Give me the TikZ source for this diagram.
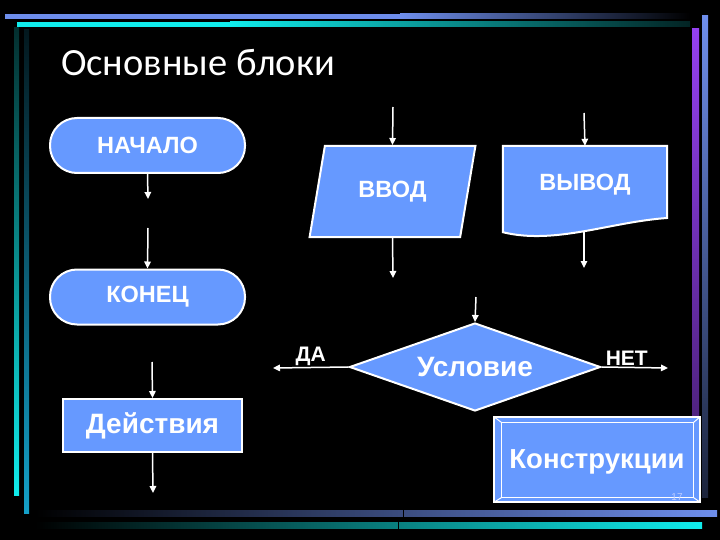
\documentclass[tikz,border=0pt]{standalone}
\usepackage{fontspec}
\setmainfont{Liberation Sans}
\newfontfamily\titlefont{Carlito}
\usetikzlibrary{arrows.meta, shapes.geometric}

\definecolor{blokblue}{RGB}{102,153,255}
\definecolor{barblue}{RGB}{110,142,236}
\definecolor{barcyan}{RGB}{16,236,236}
\definecolor{barpurple}{RGB}{148,64,240}
\definecolor{barteal}{RGB}{20,160,200}
\definecolor{nrcolor}{RGB}{190,205,255}

\begin{document}
\begin{tikzpicture}[
				x=1pt, y=-1pt,
				blok/.style={draw=white, line width=2pt, fill=blokblue, text=white, inner sep=0pt,
					font=\bfseries\fontsize{23.5}{27}\selectfont},
				term/.style={blok, rectangle, rounded corners=27pt, minimum width=195pt, minimum height=55pt},
				arrow/.style={-{Triangle[length=7pt,width=6.5pt]}, draw=white, line width=1.5pt},
				lbl/.style={text=white, font=\bfseries\fontsize{21}{24}\selectfont, inner sep=0pt}
				]
				
				% Background
				\useasboundingbox (0,0) rectangle (720,540);
				\fill[black] (0,0) rectangle (720,540);
				
				% Frame bars
				\fill[barblue] (5,14) rectangle (400,19);
				\shade[left color=barblue, right color=black] (400,14) rectangle (690,19);
				\fill[barcyan] (17,22) rectangle (230,27);
				\shade[left color=barcyan, right color=black!85!barcyan] (230,22) rectangle (690,27);
				\shade[top color=black!80!barcyan, bottom color=barcyan] (14,28) rectangle (19,495);
				\shade[top color=black!85!barteal, bottom color=barteal] (24,30) rectangle (29,513);
				\shade[top color=barpurple, bottom color=black!55!barpurple] (692,29) rectangle (699,490);
				\shade[top color=barblue, bottom color=black!75!barblue] (702,16) rectangle (708,497);
				\shade[left color=black, right color=barblue] (35,510) rectangle (717,516);
				\shade[left color=black, right color=barcyan] (35,522) rectangle (702,528);
				\draw[black, line width=1pt] (403,509) -- (403,517) (398,521) -- (398,529);
				
				% Title
				\node[anchor=west, text=white, inner sep=0pt, font=\titlefont\fontsize{38.5}{42}\selectfont] (title) at (61,63) {Основные блоки};
				
				% Terminal blocks
				\node[term] (nachalo) at (147.5,145.5) {НАЧАЛО};
				\node[term] (konec) at (147.5,297) {КОНЕЦ};
				\coordinate (nachaloout) at (148,199);
				\coordinate (konecin) at (148,228);
				\draw[arrow] (nachalo.south) -- (nachaloout);
				\draw[arrow] (konecin) -- (konec.north);
				
				% Input block
				\node[blok, trapezium, trapezium left angle=70, trapezium right angle=110, trapezium stretches=true,
				minimum width=167pt, minimum height=91pt] (vvod) at (392.5,191.5) {ВВОД};
				\coordinate (vvodin) at (393,107);
				\coordinate (vvodout) at (393,278);
				\draw[arrow] (vvodin) -- (vvod.north);
				\draw[arrow] (vvod.south) -- (vvodout);
				
				% Output block
				\node[inner sep=0pt, minimum width=164pt, minimum height=86pt] (vyvod) at (585,189) {};
				\filldraw[draw=white, line width=2pt, fill=blokblue] (vyvod.north west) -- (vyvod.north east) -- (667,218)
				.. controls (610,222) and (555,245) .. (vyvod.south west) -- cycle;
				\node[lbl, font=\bfseries\fontsize{23.5}{27}\selectfont] (vyvodtext) at (585,185) {ВЫВОД};
				\coordinate (vyvodin) at (584,113);
				\coordinate (vyvodout) at (584,268);
				\draw[arrow] (vyvodin) -- (vyvod.north);
				\draw[arrow] (584,232) -- (vyvodout);
				
				% Decision block
				\node[blok, diamond, aspect=2.85, minimum width=251pt, minimum height=88pt,
				font=\bfseries\fontsize{28}{32}\selectfont] (uslovie) at (475,367) {Условие};
				\coordinate (uslovieIn) at (476,297);
				\coordinate (da) at (273,368);
				\coordinate (net) at (668,368);
				\draw[arrow] (uslovieIn) -- (uslovie.north);
				\draw[arrow] (uslovie.west) -- (da)
				node[lbl, midway, anchor=south, xshift=-0pt, yshift=1pt] {ДА};
				\draw[arrow] (uslovie.east) -- (net)
				node[lbl, midway, anchor=south, xshift=-8pt, yshift=1pt] {НЕТ};
				
				% Process block
				\node[blok, rectangle, minimum width=179pt, minimum height=53pt,
				font=\bfseries\fontsize{28}{32}\selectfont] (deistvia) at (152.5,425.5) {Действия};
				\coordinate (deistviaIn) at (152,362);
				\coordinate (deistviaOut) at (153,493);
				\draw[arrow] (deistviaIn) -- (deistvia.north);
				\draw[arrow] (deistvia.south) -- (deistviaOut);
				
				% Constructions block
				\node[blok, rectangle, line width=1.2pt, minimum width=206pt, minimum height=85pt] (konstr) at (597,459.5) {};
				\draw[white, line width=1.2pt] ([shift={(8,6)}]konstr.north west) rectangle ([shift={(-7,-5)}]konstr.south east);
				\draw[white, line width=1pt] (konstr.north west) -- ++(8,6) (konstr.north east) -- ++(-7,6)
				(konstr.south west) -- ++(8,-5) (konstr.south east) -- ++(-7,-5);
				\node[lbl, font=\bfseries\fontsize{27.5}{32}\selectfont] (konstrtext) at (597,462) {Конструкции};
				\node[text=nrcolor, inner sep=0pt, font=\fontsize{10}{10}\selectfont] (nr) at (677,497) {17};
				
			\end{tikzpicture}
\end{document}
